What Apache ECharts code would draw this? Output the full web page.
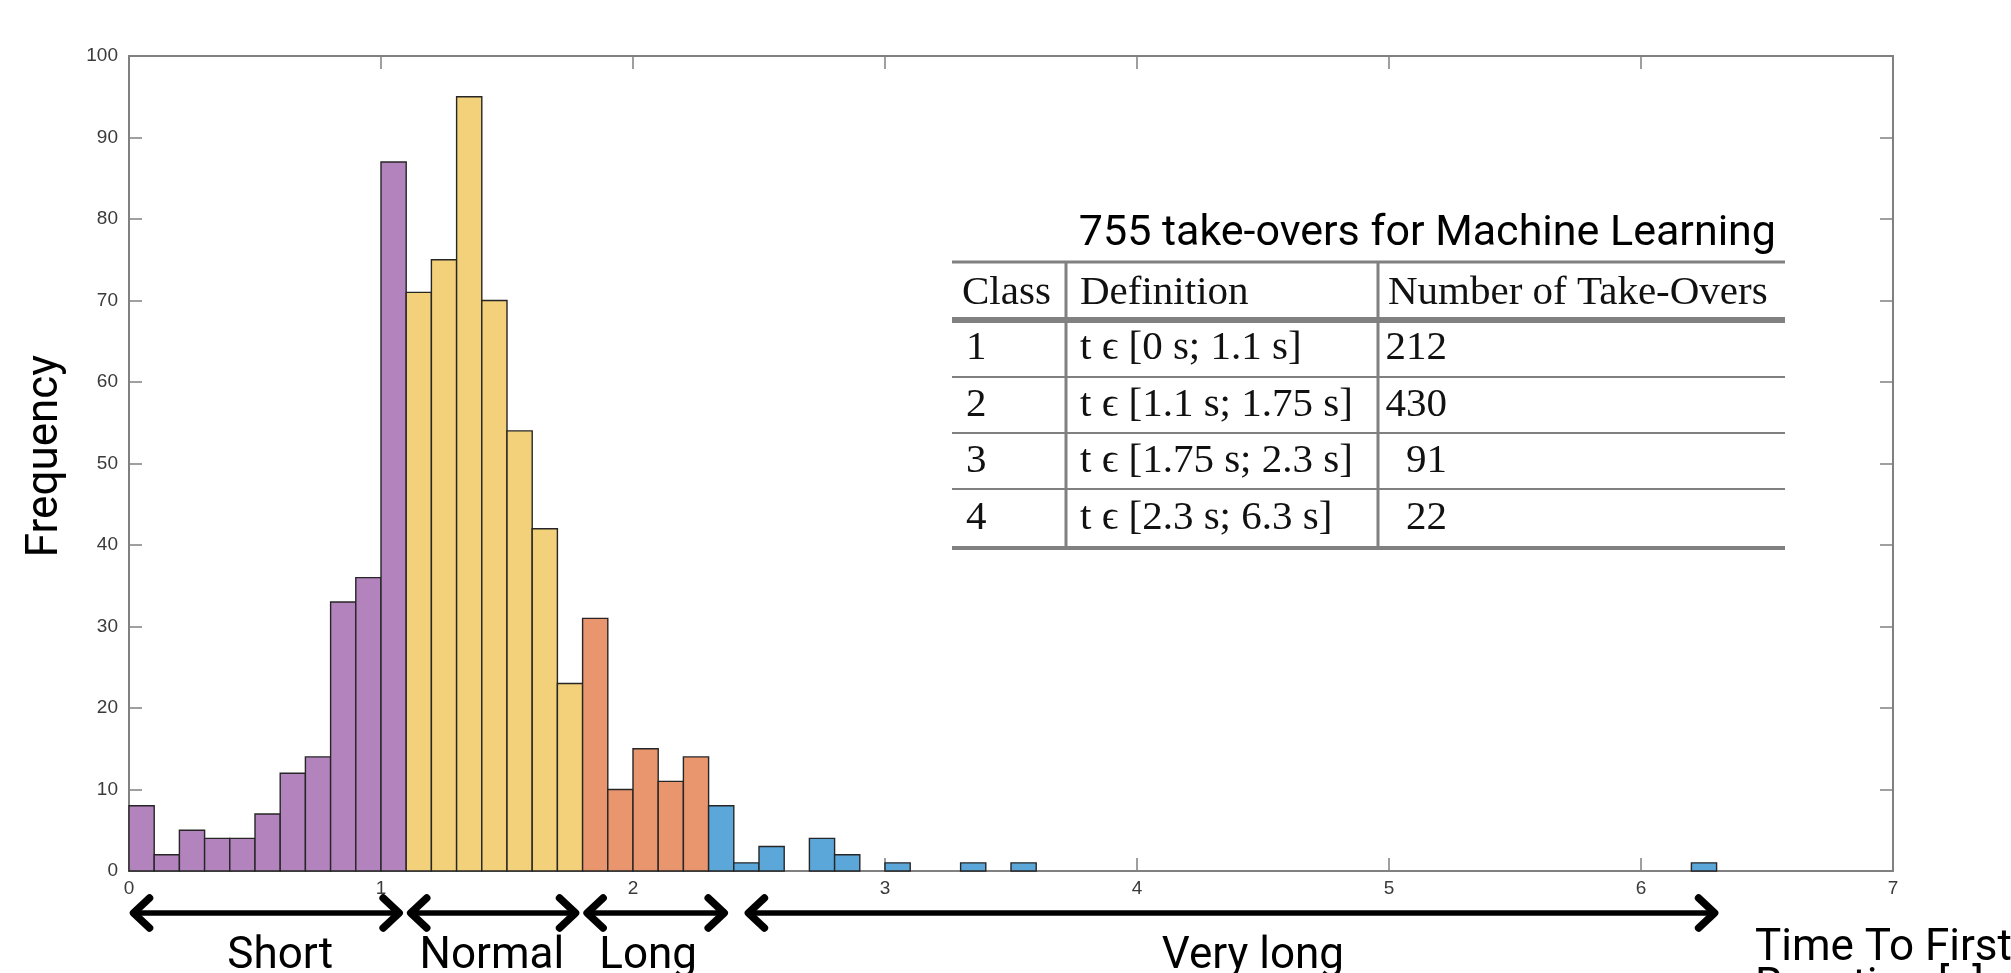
<!DOCTYPE html>
<html>
<head>
<meta charset="utf-8">
<title>Time To First Reaction</title>
<script src="https://cdn.jsdelivr.net/npm/echarts@6/dist/echarts.min.js"></script>
<style>
  html, body { margin: 0; padding: 0; background: #fff; }
  #chart { width: 2011px; height: 973px; }
</style>
</head>
<body>
<div id="chart"></div>
<script>
// Histogram of reaction times, 0.1 s bins starting at 0 s
const binWidth = 0.1;
const binCounts = [
  8, 2, 5, 4, 4, 7, 12, 14, 33, 36, 87,      // 0.0 - 1.1 s
  71, 75, 95, 70, 54, 42, 23,                // 1.1 - 1.8 s
  31, 10, 15, 11, 14,                        // 1.8 - 2.3 s
  8, 1, 3, 0, 4, 2, 0, 1, 0, 0, 1, 0, 1,     // 2.3 - 3.6 s
  0, 0, 0, 0, 0, 0, 0, 0, 0, 0, 0, 0, 0,     // 3.6 - 4.9 s
  0, 0, 0, 0, 0, 0, 0, 0, 0, 0, 0, 0, 0,     // 4.9 - 6.2 s
  1                                          // 6.2 - 6.3 s
];

// Class boundaries (s) and colours
const classEdges = [1.1, 1.8, 2.3];
const classColors = ['#b283bd', '#f3d07a', '#e9966f', '#5ba7da'];

// Axis ticks
const xTicks = [0, 1, 2, 3, 4, 5, 6, 7];
const yTicks = [0, 10, 20, 30, 40, 50, 60, 70, 80, 90, 100];

// Class spans drawn as arrows under the x axis (s)
const classNames = ['Short', 'Normal', 'Long', 'Very long'];
const classSpanStart = [0.01, 1.11, 1.81, 2.45];
const classSpanEnd = [1.08, 1.78, 2.37, 6.3];
const classLabelAt = [0.6, 1.44, 2.06, 4.46];

// Inset table
const tableTitle = '755 take-overs for Machine Learning';
const tableHeader = ['Class', 'Definition', 'Number of Take-Overs'];
const tableClass = ['1', '2', '3', '4'];
const tableDefinition = ['t ϵ [0 s; 1.1 s]', 't ϵ [1.1 s; 1.75 s]', 't ϵ [1.75 s; 2.3 s]', 't ϵ [2.3 s; 6.3 s]'];
const tableCount = ['212', '430', '91', '22'];

function classOf(x) {
  let k = 0;
  while (k < classEdges.length && x >= classEdges[k] - 1e-9) k++;
  return k;
}

const bins = [];
binCounts.forEach(function (c, i) {
  if (c > 0) {
    const x0 = +(i * binWidth).toFixed(2);
    const x1 = +((i + 1) * binWidth).toFixed(2);
    bins.push([x0, x1, c, classOf(x0)]);
  }
});

const chart = echarts.init(document.getElementById('chart'), null, { renderer: 'canvas' });

const axisGrey = '#808080';
const tickFont = { color: '#3a3a3a', fontFamily: 'Liberation Sans, Arial, sans-serif', fontSize: 19 };

function xAxisDef(pos, labels) {
  return {
    type: 'value', position: pos, min: xTicks[0], max: xTicks[xTicks.length - 1], interval: 1,
    axisLine: { show: true, onZero: false, lineStyle: { color: axisGrey, width: 2 } },
    axisTick: { show: true, inside: true, length: 13, lineStyle: { color: axisGrey, width: 1.5 } },
    axisLabel: Object.assign({ show: labels, margin: 8 }, tickFont),
    splitLine: { show: false }
  };
}
function yAxisDef(pos, labels) {
  return {
    type: 'value', position: pos, min: yTicks[0], max: yTicks[yTicks.length - 1], interval: 10,
    axisLine: { show: true, onZero: false, lineStyle: { color: axisGrey, width: 2 } },
    axisTick: { show: true, inside: true, length: 13, lineStyle: { color: axisGrey, width: 1.5 } },
    axisLabel: Object.assign({ show: labels, margin: 11 }, tickFont),
    splitLine: { show: false }
  };
}

chart.setOption({
  animation: false,
  backgroundColor: '#ffffff',
  grid: { left: 129, right: 118, top: 56, bottom: 102 },
  xAxis: [xAxisDef('bottom', true), xAxisDef('top', false)],
  yAxis: [yAxisDef('left', true), yAxisDef('right', false)],
  series: [{
    type: 'custom',
    xAxisIndex: 0,
    yAxisIndex: 0,
    data: bins,
    renderItem: function (params, api) {
      const p0 = api.coord([api.value(0), 0]);
      const p1 = api.coord([api.value(1), api.value(2)]);
      return {
        type: 'rect',
        shape: { x: p0[0], y: p1[1], width: p1[0] - p0[0], height: p0[1] - p1[1] },
        style: { fill: classColors[api.value(3)], stroke: '#262626', lineWidth: 1.4 }
      };
    }
  }]
});

// Arrows and class names under the axis, axis titles and the inset table
const graphics = [];
const axisY = chart.convertToPixel({ yAxisIndex: 0 }, 0);
const arrowY = axisY + 42;
const headLen = 18, headHalf = 15;

classNames.forEach(function (name, i) {
  const a = chart.convertToPixel({ xAxisIndex: 0 }, classSpanStart[i]);
  const b = chart.convertToPixel({ xAxisIndex: 0 }, classSpanEnd[i]);
  graphics.push({
    type: 'line', silent: true,
    shape: { x1: a + 3, y1: arrowY, x2: b - 3, y2: arrowY },
    style: { stroke: '#000', lineWidth: 5.5 }
  });
  graphics.push({
    type: 'polyline', silent: true,
    shape: { points: [[a + headLen, arrowY - headHalf], [a + 2, arrowY], [a + headLen, arrowY + headHalf]] },
    style: { stroke: '#000', lineWidth: 7.5, lineCap: 'round', lineJoin: 'round', fill: null }
  });
  graphics.push({
    type: 'polyline', silent: true,
    shape: { points: [[b - headLen, arrowY - headHalf], [b - 2, arrowY], [b - headLen, arrowY + headHalf]] },
    style: { stroke: '#000', lineWidth: 7.5, lineCap: 'round', lineJoin: 'round', fill: null }
  });
  graphics.push({
    type: 'text', silent: true,
    x: chart.convertToPixel({ xAxisIndex: 0 }, classLabelAt[i]), y: arrowY + 44,
    style: { text: name, fontFamily: 'Roboto', fontSize: 44, fill: '#000', align: 'center', verticalAlign: 'middle' }
  });
});

// x-axis title, second line runs off the bottom edge
graphics.push({
  type: 'text', silent: true, x: 1755, y: 949,
  style: { text: 'Time To First', fontFamily: 'Roboto', fontSize: 44, fill: '#000', align: 'left', verticalAlign: 'middle' }
});
graphics.push({
  type: 'text', silent: true, x: 1755, y: 988,
  style: { text: 'Reaction [s]', fontFamily: 'Roboto', fontSize: 44, fill: '#000', align: 'left', verticalAlign: 'middle' }
});

// y-axis title
graphics.push({
  type: 'text', silent: true, x: 46, y: 456, rotation: Math.PI / 2,
  style: { text: 'Frequency', fontFamily: 'Roboto', fontSize: 44, fill: '#000', align: 'center', verticalAlign: 'middle' }
});

// Inset table
const tL = 952, tR = 1785, c1 = 1066, c2 = 1378;
const rules = [262, 320, 377, 433, 489, 548];
const ruleW = [3, 6, 2, 2, 2, 4];
const tableGrey = '#808080';
const serif = 'Liberation Serif, Times New Roman, serif';

graphics.push({
  type: 'text', silent: true, x: 1776, y: 234,
  style: { text: tableTitle, fontFamily: 'Roboto', fontSize: 43, fill: '#000', align: 'right', verticalAlign: 'middle' }
});
rules.forEach(function (y, i) {
  graphics.push({ type: 'line', silent: true, shape: { x1: tL, y1: y, x2: tR, y2: y }, style: { stroke: tableGrey, lineWidth: ruleW[i] } });
});
[c1, c2].forEach(function (x) {
  graphics.push({ type: 'line', silent: true, shape: { x1: x, y1: rules[0], x2: x, y2: rules[rules.length - 1] }, style: { stroke: tableGrey, lineWidth: 3 } });
});
function cell(text, x, y, align) {
  graphics.push({
    type: 'text', silent: true, x: x, y: y,
    style: { text: text, fontFamily: serif, fontSize: 41, fill: '#111', align: align || 'left', verticalAlign: 'middle' }
  });
}
const headerY = (rules[0] + rules[1]) / 2 + 2;
cell(tableHeader[0], 962, headerY);
cell(tableHeader[1], 1080, headerY);
cell(tableHeader[2], 1388, headerY);
tableClass.forEach(function (c, i) {
  const y = (rules[i + 1] + rules[i + 2]) / 2;
  cell(c, 966, y);
  cell(tableDefinition[i], 1080, y);
  cell(tableCount[i], 1447, y, 'right');
});

chart.setOption({ graphic: { elements: graphics } });
</script>
</body>
</html>
